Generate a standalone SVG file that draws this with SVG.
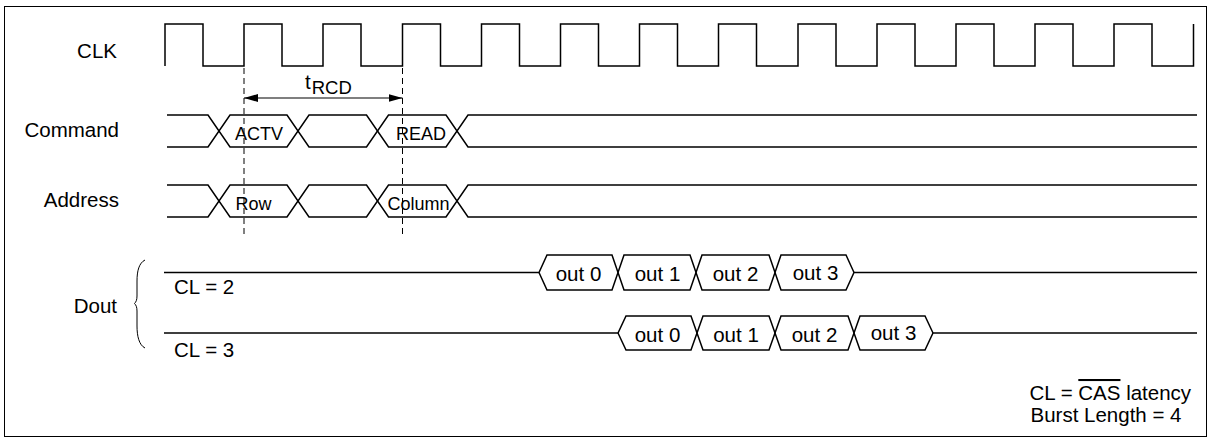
<svg xmlns="http://www.w3.org/2000/svg" width="1211" height="440" viewBox="0 0 1211 440">
<style>
  .sig { fill: none; stroke: #000; stroke-width: 1.5; stroke-linejoin: miter; }
  .lbl { font-family: "Liberation Sans", Arial, Helvetica, sans-serif; font-size: 20.5px; fill: #000; }
  .bus { font-family: "Liberation Sans", Arial, Helvetica, sans-serif; font-size: 18px; fill: #000; text-anchor: middle; }
  .end { text-anchor: end; }
  .mid { text-anchor: middle; }
  .dash { fill: none; stroke: #000; stroke-width: 1; stroke-dasharray: 6 4; }
</style>
<defs>
  <marker id="ah" viewBox="0 0 14 8" refX="14" refY="4" markerWidth="14" markerHeight="8" markerUnits="userSpaceOnUse" orient="auto-start-reverse">
    <path d="M0,0 L14,4 L0,8 Z" fill="#000"/>
  </marker>
</defs>
<rect x="4.5" y="6.5" width="1202" height="430" fill="#fff" stroke="#000" stroke-width="1"/>

<g id="clk">
  <text class="lbl end" x="117" y="58">CLK</text>
  <path class="sig" d="M165,66 V24 H203 V66 H244 V24 H282 V66 H323 V24 H361 V66 H402.5 V24 H440.5 V66 H481.5 V24 H519.5 V66 H560.5 V24 H598.5 V66 H639.5 V24 H677.5 V66 H718.5 V24 H756.5 V66 H798 V24 H836 V66 H877 V24 H915 V66 H956 V24 H994 V66 H1035 V24 H1073 V66 H1114 V24 H1152 V66 H1193.5 V24"/>
</g>

<g id="command">
  <text class="lbl end" x="119" y="137">Command</text>
  <path class="sig" d="M167,115 H208 L230,147 H287 L309,115 H366.5 L388.5,147 H446 L468,115 H1197"/>
  <path class="sig" d="M167,147 H208 L230,115 H287 L309,147 H366.5 L388.5,115 H446 L468,147 H1197"/>
  <text class="bus" x="259" y="140">ACTV</text>
  <text class="bus" x="421" y="140">READ</text>
</g>

<g id="address">
  <text class="lbl end" x="119" y="207">Address</text>
  <path class="sig" d="M167,185 H208 L230,217 H287 L309,185 H366.5 L388.5,217 H446 L468,185 H1197"/>
  <path class="sig" d="M167,217 H208 L230,185 H287 L309,217 H366.5 L388.5,185 H446 L468,217 H1197"/>
  <text class="bus" x="253.5" y="210">Row</text>
  <text class="bus" x="418.5" y="210">Column</text>
</g>

<g id="dout">
  <text class="lbl end" x="117" y="313">Dout</text>
  <path fill="none" stroke="#000" stroke-width="1" d="M145,260 C139,263 137,271 137,281 L137,296 C137,300 136,302 134.5,303.5 C136,305 137,307 137,311 L137,326 C137,336 139,345 145,348"/>
</g>

<g id="dout-cl2">
  <text class="lbl" x="174" y="294">CL = 2</text>
  <path class="sig" d="M164,272.5 H539 L547,255 H612 L624,290 H690 L702,255 H769 L781,290 H846 L854,272.5 H1197"/>
  <path class="sig" d="M539,272.5 L547,290 H612 L624,255 H690 L702,290 H769 L781,255 H846 L854,272.5"/>
  <text class="lbl mid" x="578.5" y="281">out 0</text>
  <text class="lbl mid" x="657.5" y="281">out 1</text>
  <text class="lbl mid" x="735.5" y="281">out 2</text>
  <text class="lbl mid" x="815.5" y="279.5">out 3</text>
</g>

<g id="dout-cl3">
  <text class="lbl" x="174" y="356.5">CL = 3</text>
  <path class="sig" d="M164,333 H618 L626,316 H691 L703,350 H769 L781,316 H848 L860,350 H925 L933,333 H1197"/>
  <path class="sig" d="M618,333 L626,350 H691 L703,316 H769 L781,350 H848 L860,316 H925 L933,333"/>
  <text class="lbl mid" x="657.5" y="341.5">out 0</text>
  <text class="lbl mid" x="736" y="341.5">out 1</text>
  <text class="lbl mid" x="814.5" y="341.5">out 2</text>
  <text class="lbl mid" x="893.5" y="340">out 3</text>
</g>

<g id="connectors">
  <line class="dash" x1="244" y1="68" x2="244" y2="236"/>
  <line class="dash" x1="402.5" y1="68" x2="402.5" y2="236"/>
  <line x1="244" y1="98" x2="402.5" y2="98" stroke="#000" stroke-width="1.2" marker-start="url(#ah)" marker-end="url(#ah)"/>
  <text class="lbl" x="305" y="89">t<tspan font-size="18.5" dy="4.5" dx="1">RCD</tspan></text>
</g>

<g id="legend">
  <text class="lbl" x="1029.5" y="400">CL = <tspan text-decoration="overline">CAS</tspan> latency</text>
  <text class="lbl" x="1030.5" y="422">Burst Length = 4</text>
</g>
</svg>
